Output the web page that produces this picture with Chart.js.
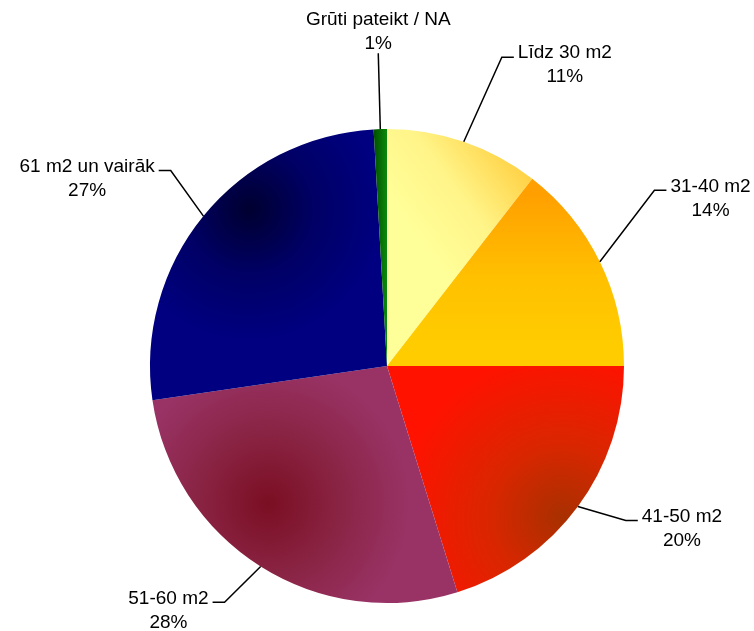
<!DOCTYPE html>
<html>
<head>
<meta charset="utf-8">
<script src="https://cdn.jsdelivr.net/npm/chart.js@4/dist/chart.umd.min.js"></script>
<style>
html,body{margin:0;padding:0;background:#fff;}
#wrap{width:754px;height:631px;position:relative;}
</style>
</head>
<body>
<div id="wrap"><canvas id="c"></canvas></div>
<script>
const categories = ['Līdz 30 m2', '31-40 m2', '41-50 m2', '51-60 m2', '61 m2 un vairāk', 'Grūti pateikt / NA'];
const values = [10.5, 14.5, 20.2, 27.5, 26.4, 0.9];
const pctLabels = ['11%', '14%', '20%', '28%', '27%', '1%'];
const baseColors = ['#FFFF99', '#FFC000', '#FF1400', '#993366', '#000080', '#008000'];

// label layout: elbow polar position (deg clockwise from top, radius factor), tail direction
const labelLayout = [
  {ang: 20.4, rf: 1.39, side: 1},
  {ang: 56.7, rf: 1.35, side: 1},
  {ang: 122.9, rf: 1.20, side: 1},
  {ang: 214.5, rf: 1.21, side: -1},
  {ang: 312.1, rf: 1.23, side: -1},
  {ang: 358.4, rf: 1.32, side: 0}
];

function sliceFill(ctx) {
  const chart = ctx.chart;
  const i = ctx.dataIndex;
  const a = chart.chartArea;
  if (!a) return baseColors[i];
  const c = chart.ctx;
  const cx = (a.left + a.right) / 2, cy = (a.top + a.bottom) / 2;
  const r = Math.min(a.right - a.left, a.bottom - a.top) / 2;
  let g;
  switch (i) {
    case 0:
      g = c.createLinearGradient(cx + r * 0.15, cy - r * 0.5, cx + r * 0.62, cy - r * 0.85);
      g.addColorStop(0, '#FFFF99'); g.addColorStop(0.45, '#FFF488'); g.addColorStop(1, '#FFCC3A');
      return g;
    case 1:
      g = c.createLinearGradient(cx + r * 0.55, cy - r * 0.72, cx + r * 0.55, cy - r * 0.1);
      g.addColorStop(0, '#FFA000'); g.addColorStop(0.55, '#FFC000'); g.addColorStop(1, '#FFCC00');
      return g;
    case 2:
      g = c.createRadialGradient(cx + r * 0.74, cy + r * 0.64, 0, cx + r * 0.74, cy + r * 0.64, r * 0.7);
      g.addColorStop(0, '#A83000'); g.addColorStop(0.45, '#DA2600'); g.addColorStop(1, '#FF1200');
      return g;
    case 3:
      g = c.createRadialGradient(cx - r * 0.5, cy + r * 0.58, 0, cx - r * 0.5, cy + r * 0.58, r * 0.6);
      g.addColorStop(0, '#7A0E22'); g.addColorStop(0.5, '#8A2444'); g.addColorStop(1, '#993366');
      return g;
    case 4:
      g = c.createRadialGradient(cx - r * 0.58, cy - r * 0.66, 0, cx - r * 0.58, cy - r * 0.66, r * 0.55);
      g.addColorStop(0, '#000030'); g.addColorStop(0.5, '#000066'); g.addColorStop(1, '#000080');
      return g;
    default:
      g = c.createLinearGradient(cx - r * 0.06, cy, cx, cy);
      g.addColorStop(0, '#004A00'); g.addColorStop(1, '#0A8A0A');
      return g;
  }
}

const labelPlugin = {
  id: 'outLabels',
  afterDatasetsDraw(chart) {
    const meta = chart.getDatasetMeta(0);
    const c = chart.ctx;
    c.save();
    c.font = '19px "Liberation Sans", Arial, sans-serif';
    c.fillStyle = '#000';
    c.strokeStyle = '#000';
    c.lineWidth = 1.5;
    c.textBaseline = 'middle';
    const lh = 24;
    meta.data.forEach((arc, i) => {
      const p = arc.getProps(['x', 'y', 'startAngle', 'endAngle', 'outerRadius'], true);
      const mid = (p.startAngle + p.endAngle) / 2;
      const sx = p.x + Math.cos(mid) * p.outerRadius;
      const sy = p.y + Math.sin(mid) * p.outerRadius;
      const L = labelLayout[i];
      const th = (L.ang - 90) * Math.PI / 180;
      const ex = p.x + Math.cos(th) * p.outerRadius * L.rf;
      const ey = p.y + Math.sin(th) * p.outerRadius * L.rf;
      const w = Math.max(c.measureText(categories[i]).width, c.measureText(pctLabels[i]).width);
      c.beginPath();
      c.moveTo(sx, sy);
      c.lineTo(ex, ey);
      let tx, ty;
      if (L.side === 0) {
        tx = ex; ty = ey - 34;
      } else {
        const tailX = ex + L.side * 12;
        c.lineTo(tailX, ey);
        tx = tailX + L.side * (4 + w / 2);
        ty = ey - 4;
      }
      c.stroke();
      c.textAlign = 'center';
      c.fillText(categories[i], tx, ty);
      c.fillText(pctLabels[i], tx, ty + lh);
    });
    c.restore();
  }
};

new Chart(document.getElementById('c'), {
  type: 'pie',
  data: {
    labels: categories,
    datasets: [{
      data: values,
      backgroundColor: sliceFill,
      borderWidth: 0
    }]
  },
  options: {
    responsive: true,
    maintainAspectRatio: false,
    animation: false,
    layout: {padding: {top: 129, bottom: 28, left: 150, right: 130}},
    plugins: {legend: {display: false}, tooltip: {enabled: false}}
  },
  plugins: [labelPlugin]
});
</script>
</body>
</html>
